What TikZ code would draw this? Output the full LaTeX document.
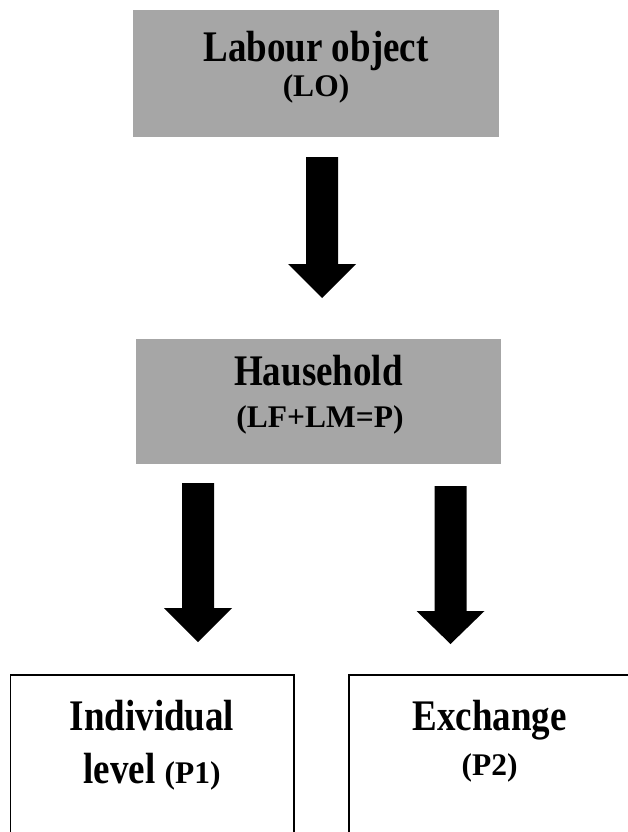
\documentclass[tikz,border=0pt]{standalone}
\usepackage{fontspec}
\setmainfont{Liberation Serif}
\definecolor{boxgray}{HTML}{A6A6A6}
\newcommand{\tall}[1]{\scalebox{1}[1.18]{#1}}
\tikzset{
  graybox/.style={fill=boxgray, draw=none},
  whitebox/.style={draw=black, line width=1.4pt, fill=white},
  bigtext/.style={anchor=base, inner sep=0pt, font=\bfseries\fontsize{37}{44}\selectfont},
  smalltext/.style={anchor=base, inner sep=0pt, font=\bfseries\fontsize{31.5}{38}\selectfont},
  blockarrow/.style={fill=black, draw=none}
}
\newcommand{\mydownarrow}[4]{% x, ytop, yhead, ytip
  \fill[blockarrow] (#1-16,#2) -- (#1+16,#2) -- (#1+16,#3) -- (#1+34,#3)
    -- (#1,#4) -- (#1-34,#3) -- (#1-16,#3) -- cycle;}
\begin{document}
\begin{tikzpicture}[x=1pt,y=1pt]
\useasboundingbox (0,0) rectangle (628,-832);
\clip (0,0) rectangle (628,-832);
% boxes
\path[graybox] (133,-10) rectangle (499,-137);
\path[graybox] (136,-339) rectangle (501,-464);
\draw[whitebox] (10.5,-675) rectangle (294,-850);
\draw[whitebox] (349,-675) rectangle (630,-850);
% texts
\node[bigtext] (lo1) at (316,-62) {\tall{Labour object}};
\node[smalltext] (lo2) at (316,-97) {(LO)};
\node[bigtext] (hh1) at (318.5,-385) {\tall{Hausehold}};
\node[smalltext] (hh2) at (320,-427) {(LF+LM=P)};
\node[bigtext] (in1) at (152,-730) {\tall{Individual}};
\node[bigtext] (in2) at (152,-783) {\tall{level} {\fontsize{31.5}{38}\selectfont (P1)}};
\node[bigtext] (ex1) at (489.5,-730) {\tall{Exchange}};
\node[smalltext] (ex2) at (489.5,-775) {(P2)};
% arrows
\mydownarrow{322}{-157}{-264}{-298}
\mydownarrow{198}{-483}{-608}{-642}
\mydownarrow{450.5}{-486}{-611}{-644}
\end{tikzpicture}
\end{document}
